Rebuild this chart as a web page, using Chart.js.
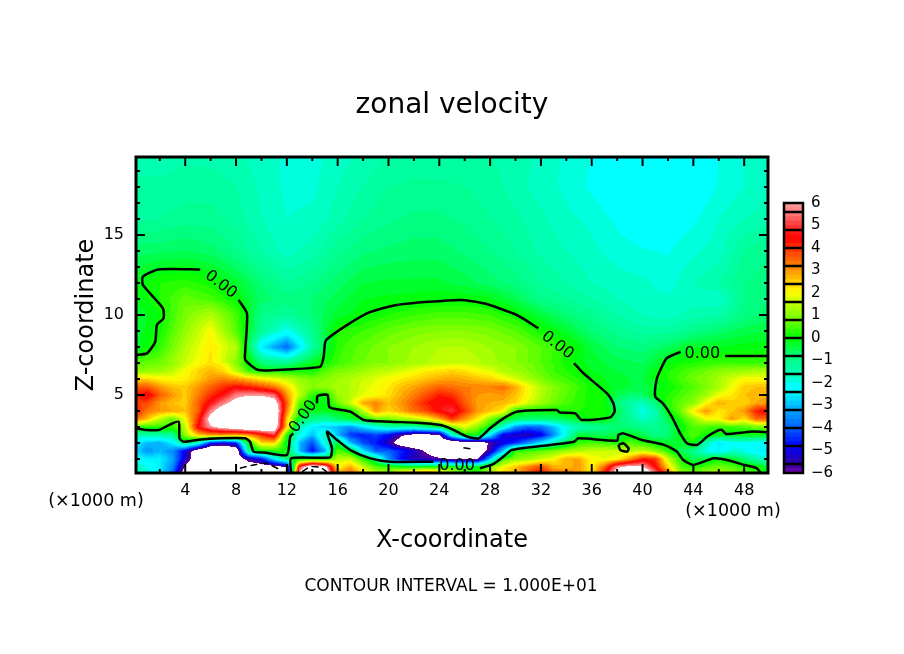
<!DOCTYPE html>
<html>
<head>
<meta charset="utf-8">
<title>zonal velocity</title>
<script src="https://cdn.jsdelivr.net/npm/chart.js@4"></script>
<style>
html, body { margin: 0; padding: 0; background: #fff; }
#wrap { position: relative; width: 904px; height: 654px; overflow: hidden; }
#field { position: absolute; left: 0; top: 0; }
#bar { position: absolute; left: 770px; top: 186px; }
</style>
</head>
<body>
<div id="wrap">
<canvas id="field" width="904" height="654"></canvas>
<canvas id="bar" width="80" height="304"></canvas>
</div>
<script>
// grid values (velocity, colour bar units)
const xLow = [0,1,2,3,4,5,6,7,8,9,10,11,12,13,14,15,16,17,18,19,20,21,22,23,24,25,26,27,28,29,30,31,32,33,34,35,36,37,38,39,40,41,42,43,44,45,46,47,48,49,50];
const zLow = [0,0.5,1,1.5,2,2.5,3,3.5,4,4.5,5,5.5,6,6.5,7];
const uLow = [
 [-1.5,-1.8,-2.5,-4,-7,-9,-9,-9,-8.5,-8,-8,-8,-7,6.5,9,8,3,3.8,2.6,2,1.5,3,3.8,4.5,3.5,2,.5,.2,1.5,2.5,2.8,3.8,4.6,3.5,3.8,2.8,2.2,4.5,7,8,8,6,3.8,1.2,1,1.6,1.6,1.2,.8,.4,-.2],
 [-1.5,-2,-2.5,-3.5,-6.2,-8,-9,-9,-8,-7,-6.8,-6.6,-6,5,7.5,6.5,2,2.8,1.6,.6,.4,.2,.1,.2,.2,.2,.1,-.1,1,2,2.6,3.2,3.8,2.8,2.6,3,2,3.5,5.8,6.4,6.1,4.5,2.4,.6,.2,.5,.8,.6,.3,.1,-.4],
 [-2.2,-2.5,-2.5,-3.2,-5.2,-7,-8,-8,-7,-5.5,-4.8,-2.5,-.8,0,.1,0,1.5,1.6,.3,-1,-3.5,-4.8,-5.5,-5.5,-5.8,-6.2,-6.3,-6.2,-3,.4,1,1.2,1.6,2,2.8,2.8,2,1.8,2,3,4.2,4,1.6,.2,-.6,-.3,0,-.2,-.8,-1.4,-1.8],
 [-2.6,-3.4,-3,-3.5,-5,-7,-8,-8,-7.2,-1,.2,.2,.1,-3,-4.8,-3.2,.6,0,-2.5,-4,-4,-4.5,-5.2,-6.2,-7,-7,-7.5,-7.2,-5.5,-3,.4,.5,.7,.9,1.2,1.4,1.6,1.6,1.6,1.4,1.6,1,.3,-.6,-1,-2,-2.4,-1.8,-2,-2.4,-2.5],
 [-2.5,-3,-3.2,-2.5,-.8,-1.8,-4.5,-5,-4.5,0,2.3,2.4,-.3,-3,-4.2,-2,-.3,-3,-4.2,-4.6,-5.4,-6.8,-7.5,-7.5,-7.5,-7.5,-7,-7,-5.8,-5,-4.5,-3.5,-2.5,-1.5,-.5,.4,.5,.4,.2,.6,.3,0,-.3,-.3,.1,-1.5,-2.6,-2.2,-2.1,-2.3,-2.3],
 [-1.2,-1.5,-1.3,-1.2,1.2,2.5,3,3,2.8,3,4,5,.2,-2,-3,-1.5,-3,-4.4,-4.6,-4.3,-4.8,-5.8,-6.4,-6.4,-6.2,-2,.1,.1,-2.5,-5,-5.3,-5.4,-5,-3.5,-2,-.3,-.5,-.6,-.4,-.2,-.5,-1,-.8,0,.6,.1,-.1,-.1,-.1,-.1,-.1],
 [.4,.3,.3,.3,1.5,4.5,5.8,6.5,7,7.6,7.6,7.2,2.4,-1.5,-2.5,-2.8,-3,-3.4,-2.6,-2,-1.5,-1.5,-1.5,-1,-.5,1,1.8,1,0,-1.8,-3.4,-4,-3.8,-3,-2,-1.5,-1.2,-1,-.8,-.8,-1,-1.1,-.8,-.1,.6,.5,.3,.4,.5,.8,1],
 [3.5,2.6,1.5,.7,2,4,6.6,7.6,8,8,8,7.5,2.5,-.4,-1,-1.2,-.7,-.3,0,.8,.9,1.2,1.5,2,2.8,4,3,2.2,1,0,-.6,-.8,-.8,-.7,-.5,-.1,0,0,-.7,-1.1,-1.7,-1.4,-.5,.3,1,2,2,3,2.3,3.5,3.5],
 [4.4,3.3,3,2.8,2.6,3.5,5.6,7,8,8,8,7.5,3.2,.2,-.2,-.2,-.1,0,1.5,3,2.4,2.8,3.4,3.8,4.5,5,4,3,2.6,2.2,.1,0,-.1,0,.2,.2,.1,.1,-.5,-1.3,-2,-1.5,0,.8,2.2,3,2.2,2.5,3,4.2,4.6],
 [3.8,3.8,3,2.6,2.5,3.5,4.6,5.6,6.6,7.5,7.5,6.8,3.6,.6,-.1,-.2,.8,1.6,2.8,3.2,2.6,3,3.6,4.2,4.6,4.5,3.6,2.9,2.8,2.7,2.4,1.7,1.2,.8,.5,.3,.1,0,-.9,-1.3,-1.7,-.9,.3,.7,1,2,2.8,2.5,2.4,2.8,3],
 [4.1,4.6,3.6,3,2.5,3.2,4,4.6,5.6,5.8,5.8,5.4,3,1.5,.3,0,1.2,1.4,1.8,2,2.3,2.8,3.2,3.7,4.2,4,3.4,3,2.9,3,2.6,2,1.4,.9,.6,.3,.1,0,-.5,-.7,-.7,0,.2,.5,.8,1.2,1.9,2.2,2.6,2.7,2.8],
 [3.6,3.6,3,2.6,2.5,3,3.5,4,4.4,4.2,3.8,3.3,2.4,1.4,1,1.1,1.3,1.4,1.7,1.9,2.2,2.6,2.9,3.2,3.5,3.4,3.2,3.2,3.2,3.4,2.8,2,1.4,1,.7,.4,.1,-.1,-.3,-.4,-.5,-.3,0,.3,.6,.9,1.3,1.9,2.5,2.6,2.6],
 [2.4,2.4,2.1,2,2.1,2.5,3,3.2,3,2.6,2.2,1.9,1.5,1.1,.9,1,1.2,1.4,1.6,1.8,2,2.2,2.4,2.6,2.8,2.9,2.8,2.6,2.5,2.1,1.7,1.3,.9,.6,.4,.2,0,-.2,-.3,-.4,-.4,-.1,.2,.5,.8,1,1.3,1.7,2,2,2],
 [1,1.1,1.2,1.5,2,2.4,2.7,2.4,1.5,.4,.1,.1,.1,.1,.1,.6,.9,1,1.2,1.4,1.5,1.7,1.9,2.2,2.3,2.4,2.3,2,1.8,1.4,1.2,1,.7,.4,.2,0,-.2,-.3,-.4,-.5,-.5,-.1,.2,.4,.6,.8,1,1.1,1.2,1.3,1.3],
 [.6,.7,.8,1,1.6,2,2.3,2,1,-.1,-.8,-1.2,-1,-.5,-.2,.1,.4,.6,.8,1,1,1.2,1.3,1.4,1.5,1.6,1.6,1.5,1.3,1.2,1,.9,.6,.4,.1,-.1,-.3,-.4,-.5,-.6,-.6,-.4,-.1,.1,.2,.3,.4,.4,.4,.4,.4]
];
const xHigh = [0,2,4,6,8,10,12,14,16,18,20,22,24,26,28,30,32,34,36,38,40,42,44,46,48,50];
const zHigh = [7,8,9,10,11,12,14,16,18,20];
const uHigh = [
 [.6,.8,1.6,2.3,1,-.8,-1,-.2,.4,.8,1,1.3,1.5,1.6,1.3,1,.6,.1,-.3,-.5,-.6,-.1,.2,.4,.4,.4],
 [-.3,.3,1.4,2.2,1.4,-2.5,-3.9,-1.3,.3,.7,1,1.2,1.4,1.4,1.2,1,.6,.2,-.4,-.8,-.9,-.6,-.2,-.2,-.1,-.1],
 [-.4,.1,1.1,2,.6,-1.2,-2.1,-1.1,.2,.4,.7,.9,1,1,.9,.6,.1,-.3,-.8,-1.1,-1.3,-1.3,-1,-.7,-.5,-.4],
 [-.4,0,.9,1.4,.5,-1,-1.2,-.8,-.3,-.05,.2,.4,.5,.5,.4,.05,-.4,-.8,-1.1,-1.4,-1.6,-1.7,-1.5,-1.4,-.9,-.7],
 [-.2,.2,.7,.5,0,-.7,-.9,-.8,-.5,-.2,-.15,-.1,-.02,-.02,-.15,-.5,-1,-1.2,-1.4,-1.6,-1.75,-1.75,-1.7,-1.8,-1,-.8],
 [-.2,.2,.3,.1,-.3,-.8,-1.2,-1,-.7,-.4,-.35,-.35,-.35,-.5,-.7,-.9,-1.2,-1.4,-1.6,-1.7,-1.75,-1.9,-1.6,-1.4,-1,-.9],
 [-.7,-.65,-.6,-.7,-1,-1.4,-1.7,-1.5,-1.1,-.85,-.75,-.7,-.7,-.85,-1,-1.2,-1.45,-1.6,-1.75,-1.9,-1.98,-2.02,-1.85,-1.7,-1.2,-1],
 [-1.25,-1.2,-1.1,-1.1,-1.3,-1.6,-1.8,-1.75,-1.5,-1.2,-1.05,-.95,-.95,-1.05,-1.2,-1.35,-1.55,-1.75,-1.85,-2.05,-2.2,-2.15,-2.05,-1.8,-1.6,-1.5],
 [-1.35,-1.35,-1.3,-1.3,-1.4,-1.65,-1.85,-1.85,-1.6,-1.4,-1.2,-1.15,-1.15,-1.2,-1.3,-1.5,-1.7,-1.85,-2.05,-2.25,-2.3,-2.3,-2.2,-1.98,-1.8,-1.6],
 [-1.5,-1.5,-1.45,-1.45,-1.55,-1.7,-1.85,-1.9,-1.7,-1.55,-1.4,-1.35,-1.35,-1.35,-1.4,-1.5,-1.65,-1.85,-2,-2.2,-2.3,-2.3,-2.2,-2,-1.8,-1.6]
];

// zero contour pieces, broken where the labels sit
const zeroLowLeft = [[.125,2.92],[.98,2.81],[1.9,2.81],[2.56,3.06],[3.48,3.33],[3.55,2.29],[3.87,2.08],[4.92,2.19],[6.76,2.29],[8.72,2.29],[9.1,2.08],[9.38,1.46],[10.17,1.4],[12,1.25],[12.27,2.4],[12.5,2.6]];
const zeroMiddle = [[14.37,4.48],[14.42,4.94],[15.2,5],[15.36,4.23],[17,3.96],[18.05,3.44],[20.1,3.33],[22.2,3.27],[24.1,3.13],[24.86,2.92],[26.2,2.4],[27.1,2.29],[28,2.92],[29.05,3.54],[30.1,3.96],[33.25,4.06],[33.5,3.9],[34.7,3.85],[35.2,3.44],[37.45,3.6],[37.8,3.96],[37.7,4.48],[37.2,5.1],[35.5,6.25],[35.1,6.56],[34.6,6.98]];
const zeroDome = [[31.8,9.17],[30.1,10],[27.5,10.73],[25.65,10.94],[20.67,10.63],[18.3,10.1],[15.1,8.44],[14.9,7.4],[14.63,6.77],[12,6.6],[9.77,6.56],[8.73,7.19],[8.73,7.81],[8.86,10.1],[8.2,10.94]];
const zeroTopLeft = [[5.18,12.85],[1.9,12.85],[.67,12.4],[.67,11.88],[2.24,10.42],[2.29,9.79],[1.77,9.38],[1.64,8.33],[.98,7.6],[.125,7.5]];
const zeroRightTop = [[49.875,7.44],[46.5,7.44]];
const zeroRight = [[43,7.7],[41.9,7.3],[41.4,6.56],[41.1,5.94],[41,4.9],[41.6,4.48],[42.3,3.65],[42.96,2.6],[43.5,1.98],[44.3,1.88],[45.1,2.4],[45.9,2.77],[46.25,2.81],[46.6,2.56],[48.5,2.71],[49.875,2.67]];
const zeroBottomA = [[12.34,.125],[12.34,1.04],[15.4,1.1],[15.55,1.67],[15.15,2.71],[15.95,2.19],[17,1.56],[18.57,1.04],[20.14,.83],[23.55,.83]];
const zeroBottomB = [[27.2,.42],[28.2,.67],[29.05,1.15],[29.7,1.56],[32.7,1.88],[34.6,2.08],[34.95,2.29],[38,2.15],[38.1,2.5],[38.5,2.6],[39.95,2.19],[41.7,1.88],[42.7,1.46],[43.2,.94],[44,.63],[45.6,1.04],[46.65,.94],[48,.63],[49,.42],[49.3,.125]];
const zeroLoop = [[38.1,1.88],[38.5,1.98],[38.9,1.67],[38.8,1.46],[38.25,1.56],[38.1,1.88]];
const negTenA = [[8.3,.42],[9.4,.63],[10.4,.73],[11.5,.31]];
const negTenB = [[25.9,1.71],[26.7,1.6]];
const posTen = [[13.2,.2],[13.85,.52],[14.6,.48],[15.15,.2]];

const contourLabels = [['0.00',6.8,11.9,38],['0.00',33.3,8.1,38],['0.00',44.7,7.6,0],['0.00',13.3,3.65,-54],['0.00',25.4,.55,0]];

const xTicks = [4,8,12,16,20,24,28,32,36,40,44,48];
const xMinor = [2,6,10,14,18,22,26,30,34,38,42,46];
const zTicks = [5,10,15];
const zMinor = [1,2,3,4,6,7,8,9,11,12,13,14,16,17,18,19];
const barTicks = [-6,-5,-4,-3,-2,-1,0,1,2,3,4,5,6];
const barLines = [-5.6,-4.8,-4,-3.2,-2.4,-1.6,-0.8,0,0.8,1.6,2.4,3.2,4,4.8,5.6];

// colour bar anchor points
const paletteVal = [-6,-5.6,-4.8,-4,-3.2,-2.4,-2,-1.9,-1.6,-0.8,0,0.8,1.6,2,2.4,3.2,4,4.4,4.8,5.6,6];
const paletteRgb = [[112,0,168],[48,0,160],[0,0,255],[0,96,255],[0,168,255],[0,255,255],[0,255,255],[0,255,220],[0,255,185],[0,255,120],[0,255,0],[112,255,0],[200,255,0],[255,255,0],[255,216,0],[255,128,0],[255,48,0],[255,0,0],[255,32,32],[255,128,128],[255,160,160]];
const bandStep = 0.2;

function bandRgb(v) {
    if (v > 6 || v < -6) return [255,255,255];
    let mid = (Math.floor(v / bandStep) + 0.5) * bandStep;
    mid = Math.max(-6, Math.min(6, mid));
    let i = 0;
    while (i < paletteVal.length - 2 && mid > paletteVal[i+1]) i++;
    const t = (mid - paletteVal[i]) / (paletteVal[i+1] - paletteVal[i]);
    return paletteRgb[i].map((c, k) => Math.round(c + (paletteRgb[i+1][k] - c) * t));
}

function bracket(list, v) {
    let i = 0;
    while (i < list.length - 2 && v > list[i+1]) i++;
    return [i, (v - list[i]) / (list[i+1] - list[i])];
}

function sample(xs, zs, rows, x, z) {
    const [i, tx] = bracket(xs, x);
    const [j, tz] = bracket(zs, z);
    const a = rows[j][i] + (rows[j][i+1] - rows[j][i]) * tx;
    const b = rows[j+1][i] + (rows[j+1][i+1] - rows[j+1][i]) * tx;
    return a + (b - a) * tz;
}

const fieldPlugin = {
    id: 'field',
    beforeDatasetsDraw(chart) {
        const { ctx, chartArea: a, scales: { x: sx, y: sy } } = chart;
        const w = Math.round(a.right - a.left), h = Math.round(a.bottom - a.top);
        const img = ctx.createImageData(w, h);
        for (let py = 0; py < h; py++) {
            const z = sy.getValueForPixel(a.top + py + 0.5);
            for (let px = 0; px < w; px++) {
                const x = sx.getValueForPixel(a.left + px + 0.5);
                const v = z < 7 ? sample(xLow, zLow, uLow, x, z) : sample(xHigh, zHigh, uHigh, x, z);
                const c = bandRgb(v);
                const o = (py * w + px) * 4;
                img.data[o] = c[0]; img.data[o+1] = c[1]; img.data[o+2] = c[2]; img.data[o+3] = 255;
            }
        }
        ctx.putImageData(img, Math.round(a.left), Math.round(a.top));
    }
};

const framePlugin = {
    id: 'frame',
    afterDatasetsDraw(chart) {
        const { ctx, chartArea: a, scales: { x: sx, y: sy } } = chart;
        ctx.save();
        ctx.strokeStyle = '#000';
        ctx.lineWidth = 2;
        function tickX(list, len) {
            list.forEach(v => {
                const p = sx.getPixelForValue(v);
                ctx.beginPath();
                ctx.moveTo(p, a.top); ctx.lineTo(p, a.top + len);
                ctx.moveTo(p, a.bottom); ctx.lineTo(p, a.bottom - len);
                ctx.stroke();
            });
        }
        function tickY(list, len) {
            list.forEach(v => {
                const p = sy.getPixelForValue(v);
                ctx.beginPath();
                ctx.moveTo(a.left, p); ctx.lineTo(a.left + len, p);
                ctx.moveTo(a.right, p); ctx.lineTo(a.right - len, p);
                ctx.stroke();
            });
        }
        tickX(xTicks, 9); tickX(xMinor, 4);
        tickY(zTicks, 9); tickY(zMinor, 4);
        ctx.lineWidth = 3;
        ctx.strokeRect(a.left, a.top, a.right - a.left, a.bottom - a.top);

        // contour labels
        ctx.fillStyle = '#000';
        ctx.textAlign = 'center';
        ctx.textBaseline = 'middle';
        ctx.font = '16px "DejaVu Sans"';
        contourLabels.forEach(l => {
            ctx.save();
            ctx.translate(sx.getPixelForValue(l[1]), sy.getPixelForValue(l[2]));
            ctx.rotate(l[3] * Math.PI / 180);
            ctx.fillText(l[0], 0, 0);
            ctx.restore();
        });

        // title, unit notes and footer
        ctx.font = '28px "DejaVu Sans"';
        ctx.fillText('zonal velocity', 452, 106);
        ctx.font = '17.5px "DejaVu Sans"';
        ctx.fillText('(×1000 m)', 96, 501);
        ctx.fillText('(×1000 m)', 733, 511);
        ctx.font = '17px "DejaVu Sans"';
        ctx.fillText('CONTOUR INTERVAL = 1.000E+01', 451, 587);
        ctx.restore();
    }
};

function line(points, dash) {
    return {
        data: points.map(p => ({ x: p[0], y: p[1] })),
        showLine: true,
        pointRadius: 0,
        borderColor: '#000',
        borderWidth: dash ? 1.5 : 2.5,
        borderDash: dash ? [7, 4] : [],
        tension: 0.2
    };
}

new Chart(document.getElementById('field'), {
    type: 'scatter',
    plugins: [fieldPlugin, framePlugin],
    data: {
        datasets: [
            line(zeroLowLeft), line(zeroMiddle), line(zeroDome), line(zeroTopLeft),
            line(zeroRightTop), line(zeroRight), line(zeroBottomA), line(zeroBottomB),
            line(zeroLoop), line(negTenA, true), line(negTenB, true), line(posTen, true)
        ]
    },
    options: {
        responsive: false,
        animation: false,
        devicePixelRatio: 1,
        layout: { padding: { left: 72, right: 136, top: 157, bottom: 99 } },
        plugins: {
            legend: { display: false },
            tooltip: { enabled: false }
        },
        scales: {
            x: {
                type: 'linear', min: 0.125, max: 49.875,
                afterBuildTicks: s => { s.ticks = xTicks.map(v => ({ value: v })); },
                afterFit: s => { s.height = 82; },
                grid: { display: false, drawTicks: false },
                border: { display: false },
                ticks: { color: '#000', font: { family: 'DejaVu Sans', size: 16 }, padding: 8, maxRotation: 0, autoSkip: false },
                title: { display: true, text: 'X-coordinate', color: '#000', font: { family: 'DejaVu Sans', size: 24 }, padding: 0 }
            },
            y: {
                type: 'linear', min: 0.125, max: 19.875,
                afterBuildTicks: s => { s.ticks = zTicks.map(v => ({ value: v })); },
                afterFit: s => { s.width = 64; },
                grid: { display: false, drawTicks: false },
                border: { display: false },
                ticks: { color: '#000', font: { family: 'DejaVu Sans', size: 16 }, padding: 12, autoSkip: false },
                title: { display: true, text: 'Z-coordinate', color: '#000', font: { family: 'DejaVu Sans', size: 24 }, padding: 0 }
            }
        }
    }
});

// colour bar: one floating bar per colour band
const bandLows = [];
for (let i = 0; i < 60; i++) bandLows.push(-6 + i * bandStep);

const barFrame = {
    id: 'barFrame',
    afterDatasetsDraw(chart) {
        const { ctx, chartArea: a, scales: { y } } = chart;
        ctx.save();
        ctx.strokeStyle = '#000';
        ctx.lineWidth = 2.5;
        barLines.forEach(v => {
            const p = y.getPixelForValue(v);
            ctx.beginPath(); ctx.moveTo(a.left, p); ctx.lineTo(a.right, p); ctx.stroke();
        });
        ctx.strokeRect(a.left, a.top, a.right - a.left, a.bottom - a.top);
        ctx.restore();
    }
};

new Chart(document.getElementById('bar'), {
    type: 'bar',
    plugins: [barFrame],
    data: {
        labels: [''],
        datasets: bandLows.map(lo => {
            const c = bandRgb(lo + bandStep / 2);
            return {
                data: [[lo, lo + bandStep]],
                backgroundColor: 'rgb(' + c.join(',') + ')',
                categoryPercentage: 1,
                barPercentage: 1
            };
        })
    },
    options: {
        responsive: false,
        animation: false,
        devicePixelRatio: 1,
        layout: { padding: { left: 14, top: 5, bottom: 13, right: 0 } },
        plugins: { legend: { display: false }, tooltip: { enabled: false } },
        scales: {
            x: { display: false, stacked: true },
            y: {
                type: 'linear', position: 'right', min: -6, max: 6,
                afterBuildTicks: s => { s.ticks = barTicks.map(v => ({ value: v })); },
                afterFit: s => { s.width = 47; },
                grid: { display: false, drawTicks: false },
                border: { display: false },
                ticks: {
                    color: '#000', font: { family: 'DejaVu Sans', size: 15 }, padding: 8, autoSkip: false,
                    callback: v => String(v).replace('-', '\u2212')
                }
            }
        }
    }
});
</script>
</body>
</html>
